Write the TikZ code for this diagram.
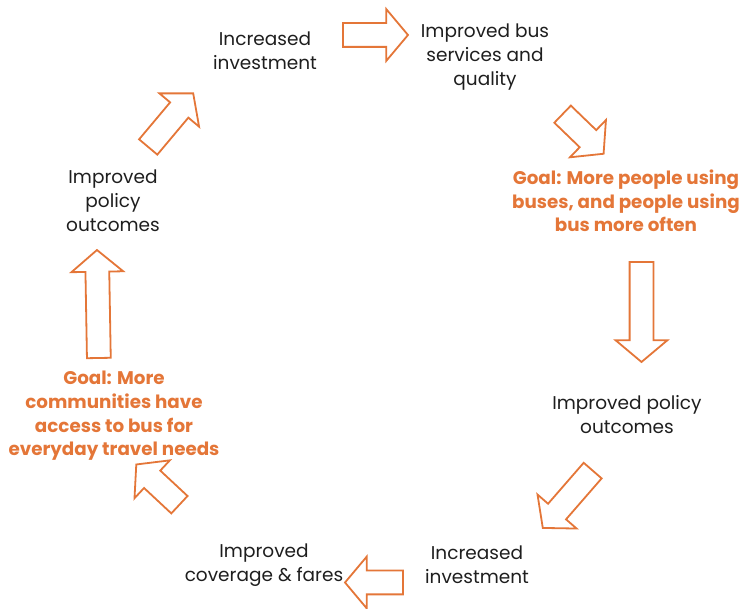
\documentclass[tikz,border=0pt]{standalone}
\usepackage{fontspec}
\setmainfont{Poppins}
\usetikzlibrary{shapes.arrows}
\definecolor{busorange}{RGB}{228,118,56}
\definecolor{darktext}{RGB}{30,30,30}

\begin{document}
\begin{tikzpicture}[x=1pt,y=-1pt,
    stage/.style={align=center,text=darktext,inner sep=0pt,font=\fontsize{18.5}{24}\selectfont},
    goal/.style={stage,text=busorange,font=\bfseries\fontsize{18.3}{23.7}\selectfont},
    cycle arrow/.style={single arrow,draw=busorange,fill=white,line width=1.8pt,
        inner xsep=0pt,inner ysep=11pt,minimum width=50pt,
        single arrow head extend=14pt,single arrow tip angle=100}]
    \useasboundingbox (0,0) rectangle (748,609);

    % stages of the cycle, clockwise from the top
    \node[stage] (invest1) at (265,51) {Increased\\investment};
    \node[stage] (busquality) at (485,57) {Improved bus\\services and\\quality};
    \node[goal] (goalriders) at (626,201) {Goal: More people using\\buses, and people using\\bus more often};
    \node[stage] (policy1) at (627,415) {Improved policy\\outcomes};
    \node[stage] (invest2) at (477,565) {Increased\\investment};
    \node[stage] (coverage) at (264,565) {Improved\\coverage \& fares};
    \node[goal] (goalaccess) at (114,416) {Goal: More\\communities have\\access to bus for\\everyday travel needs};
    \node[stage] (policy2) at (113,201) {Improved\\policy\\outcomes};

    % block arrows between the stages
    \node[cycle arrow,minimum height=65pt,rotate=0] (a1) at (370.5,35) {};
    \node[cycle arrow,minimum height=57pt,rotate=-44] (a2) at (579.5,130.5) {};
    \node[cycle arrow,minimum height=100pt,rotate=-90] (a3) at (641.5,307) {};
    \node[cycle arrow,minimum height=76pt,rotate=-131] (a4) at (571,495.5) {};
    \node[cycle arrow,minimum height=58pt,rotate=180] (a5) at (379,582.5) {};
    \node[cycle arrow,minimum height=59pt,rotate=137] (a6) at (161.5,488) {};
    \node[cycle arrow,minimum height=108pt,rotate=91] (a7) at (98,309) {};
    \node[cycle arrow,minimum height=70pt,rotate=50] (a8) at (167.5,124) {};
\end{tikzpicture}
\end{document}
